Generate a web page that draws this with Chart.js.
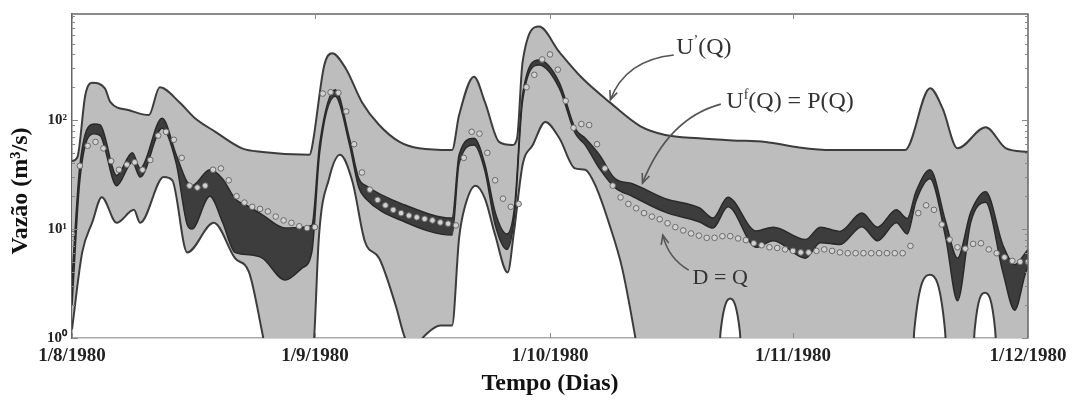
<!DOCTYPE html>
<html>
<head>
<meta charset="utf-8">
<script src="https://cdn.jsdelivr.net/npm/chart.js@4.4.1/dist/chart.umd.min.js"></script>
<style>
    html, body { margin: 0; padding: 0; background: #fff; }
    #wrap { width: 1079px; height: 405px; position: relative; }
</style>
</head>
<body>
<div id="wrap"><canvas id="grafico"></canvas></div>
<script>
// Eixo x em dias desde 1/8/1980
const tickDays = [0, 31, 61, 92, 122];
const tickLabels = ['1/8/1980', '1/9/1980', '1/10/1980', '1/11/1980', '1/12/1980'];
const yTickVals = [1, 10, 100];
const yTickLabels = ['10⁰', '10¹', '10²'];

// Limite superior U'(Q)
const uDays = [0, 0.7, 1.7, 2.6, 4.2, 4.9, 7.3, 9.8, 11.2, 13.7, 15.7, 18.3, 21.7, 24.3, 30.3, 30.6, 32.2, 33.2, 34.9, 37.0, 39.2, 41.8, 44.3, 48.5, 49.4, 51.3, 52.7, 54.5, 56.2, 56.8, 57.5, 59.6, 62.2, 65.1, 68.6, 72.5, 75.7, 80, 84.3, 88.5, 92.8, 97, 106.3, 109.5, 111.1, 113, 116.6, 119.2, 122];
const uVals = [42, 46, 170, 220, 195, 146, 123, 111, 200, 146, 104, 78, 55, 51, 48, 55, 320, 410, 300, 146, 90, 63, 55, 53, 111, 250, 146, 63, 59, 68, 340, 720, 420, 243, 146, 88, 73, 68, 65, 63, 56, 53, 53, 196, 128, 55, 86, 55, 51];

// Limite inferior
const lDays = [0, 1.3, 2.6, 3.8, 5.7, 7.9, 8.7, 11.7, 12.8, 14.7, 18.1, 20.8, 22.6, 24.3, 25.5, 30.3, 30.9, 31.5, 32.8, 34.2, 35.8, 37.4, 39.2, 41.3, 42.5, 43.5, 45, 47, 48.5, 49.4, 50.2, 51.5, 52.7, 54, 55.6, 56.4, 57.5, 58.8, 60.4, 62.2, 64.2, 65.5, 66.8, 68.6, 70.2, 71.9, 72.8, 82.3, 82.8, 84, 85.2, 85.7, 107.1, 107.5, 109.5, 111.4, 111.8, 114.8, 115.2, 116.5, 117.8, 118.2, 122];
const lVals = [1.2, 6.1, 11.6, 19.6, 11.4, 15, 11.4, 30, 28, 6.1, 11.4, 5.4, 4.0, 1.1, 0.4, 0.4, 1.0, 8.3, 29, 48, 27, 7.6, 5.4, 2.0, 1.0, 0.8, 1.05, 1.3, 1.3, 8.3, 16.6, 25, 19, 8.8, 4.0, 9.4, 38.6, 59, 96, 68, 36, 35, 25, 10.9, 4.4, 1.0, 0.4, 0.4, 1.2, 2.3, 1.2, 0.4, 0.4, 1.2, 3.8, 1.2, 0.4, 0.4, 1.2, 2.6, 1.2, 0.4, 0.4];

// Faixa escura Uf(Q) = P(Q)
const pDays = [0, 1, 2.8, 3.6, 5.7, 7.7, 8.7, 11.5, 13.3, 14.7, 15.3, 17.6, 19.2, 20.8, 22.6, 24.3, 27.2, 29.4, 30.6, 31.6, 33.6, 35.4, 36.6, 37.5, 42.5, 48.5, 49.4, 51.3, 52.7, 54, 55.5, 56.5, 57.5, 59.6, 62.2, 64.2, 65.5, 67.3, 69.3, 71.5, 75.7, 80.1, 81.8, 83.7, 87.3, 89.5, 93.6, 95.5, 98, 100.8, 102.8, 105.2, 106.6, 107.7, 109.5, 111.5, 113, 114.7, 116.6, 118.8, 120.3, 121.7, 122];
const pHigh = [3.5, 38, 92, 90, 31, 50, 36, 104, 48, 27, 25, 35, 29, 19, 16, 13.5, 10.2, 10.4, 10.8, 60, 190, 68, 29, 25, 16.6, 12.6, 48, 68, 39, 14.3, 9, 16.6, 170, 355, 220, 84, 68, 48, 29, 26, 19, 15.6, 12.6, 19.6, 9.6, 10.4, 8, 10.4, 9.5, 14, 10.4, 15, 12.5, 22, 35, 11.6, 5.4, 14.3, 22, 7.1, 4.7, 6.1, 6.5];
const pLow = [2, 28, 75, 72, 25, 41, 30, 84, 40, 11, 10, 20, 11.6, 6.1, 5.8, 5.4, 3.4, 4.4, 6.1, 50, 165, 60, 24, 19, 11.6, 8.8, 40, 59, 34, 11, 6.5, 14, 150, 320, 195, 76, 59, 36, 24, 20, 14.3, 11.6, 10.2, 16, 6.8, 7.8, 5.4, 7.5, 7.2, 10.5, 7.8, 11.4, 9, 18, 29, 8.3, 2.2, 11.6, 17.6, 4.0, 1.8, 4.0, 4.5];

// Vazões observadas D = Q (um valor por dia, 0..122)
const obsVals = [9, 38, 58, 63, 55, 42, 35, 39, 41, 35, 43, 72, 78, 66, 45, 25, 24, 25, 35, 36,
    28, 20, 17.5, 16, 15.3, 14.5, 13, 12, 11.4, 10.6, 10.2, 10.4, 175, 180, 178, 120, 60, 33, 23, 18.5,
    16.5, 15, 14, 13.3, 12.8, 12.4, 12, 11.5, 11.2, 10.8, 45, 78, 75, 50, 28, 19, 16, 17, 200, 260,
    360, 400, 290, 150, 85, 92, 90, 60, 36, 25, 19.5, 17, 15.5, 14, 13, 12.3, 11.3, 10.4, 9.7, 9.1,
    8.7, 8.3, 8.3, 8.6, 8.6, 8.2, 7.9, 7.4, 7.1, 6.8, 6.7, 6.5, 6.3, 6.1, 6.1, 6.3, 6.5, 6.3, 6.1, 6.0,
    6.0, 6.0, 6.0, 6.0, 6.0, 6.0, 6.0, 7.0, 14, 16.5, 15, 11, 8, 6.8, 6.6, 7.3, 7.4, 6.5, 6.0, 5.5,
    5.1, 5.0, 5.0];

// Rótulos e setas (em coordenadas de dados: dia, vazão)
const rotulos = [
    { dia: 77.1, valor: 458, tamanho: 24, partes: [['U', false], ['’', true], ['(Q)', false]] },
    { dia: 83.5, valor: 146, tamanho: 24, partes: [['U', false], ['f', true], ['(Q) = P(Q)', false]] },
    { dia: 79.2, valor: 3.5, tamanho: 22, partes: [['D = Q', false]] }
];
const setas = [
    { de: [76.8, 395], ctrl: [70.6, 355], para: [68.7, 153] },
    { de: [82.8, 140], ctrl: [76.1, 104], para: [72.8, 26.4] },
    { de: [78.7, 4.2], ctrl: [76.1, 5.4], para: [75.4, 8.8] }
];

const FONTE = "'Liberation Serif', 'Times New Roman', serif";

function pontos(xs, ys) {
    return xs.map((d, i) => ({ x: d, y: ys[i] }));
}

// Moldura, marcas menores e anotações
const molduraPlugin = {
    id: 'moldura',
    afterDatasetsDraw(chart) {
        const ctx = chart.ctx;
        const a = chart.chartArea;
        const sx = chart.scales.x;
        const sy = chart.scales.y;
        ctx.save();

        // moldura superior e direita
        ctx.strokeStyle = '#666';
        ctx.lineWidth = 1.5;
        ctx.beginPath();
        ctx.moveTo(a.left, a.top);
        ctx.lineTo(a.right, a.top);
        ctx.lineTo(a.right, a.bottom);
        ctx.stroke();

        // marcas menores do eixo log
        ctx.strokeStyle = '#888';
        ctx.lineWidth = 1;
        ctx.beginPath();
        for (let dec = 1; dec <= 100; dec *= 10) {
            for (let m = 1; m <= 9; m++) {
                const v = dec * m;
                if (v > sy.max) break;
                const y = Math.round(sy.getPixelForValue(v)) + 0.5;
                const len = m === 1 ? 6 : 3;
                ctx.moveTo(a.left, y); ctx.lineTo(a.left + len, y);
                ctx.moveTo(a.right, y); ctx.lineTo(a.right - len, y);
            }
        }
        tickDays.forEach(d => {
            const x = Math.round(sx.getPixelForValue(d)) + 0.5;
            ctx.moveTo(x, a.top); ctx.lineTo(x, a.top + 5);
            ctx.moveTo(x, a.bottom); ctx.lineTo(x, a.bottom - 5);
        });
        ctx.stroke();

        // setas curvas
        ctx.strokeStyle = '#555';
        ctx.lineWidth = 1.6;
        setas.forEach(s => {
            const p0 = [sx.getPixelForValue(s.de[0]), sy.getPixelForValue(s.de[1])];
            const pc = [sx.getPixelForValue(s.ctrl[0]), sy.getPixelForValue(s.ctrl[1])];
            const p1 = [sx.getPixelForValue(s.para[0]), sy.getPixelForValue(s.para[1])];
            ctx.beginPath();
            ctx.moveTo(p0[0], p0[1]);
            ctx.quadraticCurveTo(pc[0], pc[1], p1[0], p1[1]);
            ctx.stroke();
            const ang = Math.atan2(p1[1] - pc[1], p1[0] - pc[0]);
            ctx.beginPath();
            ctx.moveTo(p1[0] - 10 * Math.cos(ang - 0.4), p1[1] - 10 * Math.sin(ang - 0.4));
            ctx.lineTo(p1[0], p1[1]);
            ctx.lineTo(p1[0] - 10 * Math.cos(ang + 0.4), p1[1] - 10 * Math.sin(ang + 0.4));
            ctx.stroke();
        });

        // textos
        ctx.fillStyle = '#333';
        ctx.textBaseline = 'middle';
        ctx.textAlign = 'left';
        rotulos.forEach(r => {
            let x = sx.getPixelForValue(r.dia);
            const y = sy.getPixelForValue(r.valor);
            r.partes.forEach(([txt, sup]) => {
                const t = sup ? Math.round(r.tamanho * 0.6) : r.tamanho;
                ctx.font = t + 'px ' + FONTE;
                ctx.fillText(txt, x, sup ? y - r.tamanho * 0.3 : y);
                x += ctx.measureText(txt).width;
            });
        });
        ctx.restore();
    }
};

const ctx = document.getElementById('grafico').getContext('2d');
new Chart(ctx, {
    type: 'line',
    data: {
        datasets: [
            {
                label: "U'(Q)",
                data: pontos(uDays, uVals),
                borderColor: '#3c3c3c',
                borderWidth: 2,
                backgroundColor: '#bdbdbd',
                fill: '+1',
                pointRadius: 0,
                cubicInterpolationMode: 'monotone',
                order: 5
            },
            {
                label: 'inferior',
                data: pontos(lDays, lVals),
                borderColor: '#3c3c3c',
                borderWidth: 2,
                fill: false,
                pointRadius: 0,
                cubicInterpolationMode: 'monotone',
                order: 4
            },
            {
                label: 'P(Q) sup',
                data: pontos(pDays, pHigh),
                borderColor: '#2a2a2a',
                borderWidth: 1.5,
                backgroundColor: '#3d3d3d',
                fill: '+1',
                pointRadius: 0,
                cubicInterpolationMode: 'monotone',
                order: 3
            },
            {
                label: 'P(Q) inf',
                data: pontos(pDays, pLow),
                borderColor: '#2a2a2a',
                borderWidth: 1.5,
                fill: false,
                pointRadius: 0,
                cubicInterpolationMode: 'monotone',
                order: 2
            },
            {
                label: 'D = Q',
                data: obsVals.map((v, i) => ({ x: i, y: v })),
                showLine: false,
                pointRadius: 2.8,
                pointBackgroundColor: '#d2d2d2',
                pointBorderColor: '#6a6a6a',
                pointBorderWidth: 1,
                order: 1
            }
        ]
    },
    options: {
        responsive: true,
        maintainAspectRatio: false,
        animation: false,
        devicePixelRatio: 1,
        layout: { padding: { top: 14, right: 51, bottom: 0, left: 0 } },
        plugins: {
            legend: { display: false },
            tooltip: { enabled: false }
        },
        scales: {
            x: {
                type: 'linear',
                min: 0,
                max: 122,
                afterBuildTicks: s => { s.ticks = tickDays.map(v => ({ value: v })); },
                afterFit: s => { s.height = 67; },
                ticks: {
                    callback: (v, i) => tickLabels[i],
                    font: { family: FONTE, size: 19, weight: 'bold' },
                    color: '#222',
                    padding: 7,
                    maxRotation: 0,
                    autoSkip: false
                },
                grid: { display: false, drawTicks: false },
                border: { display: true, color: '#aaa', width: 1.5 },
                title: {
                    display: true,
                    text: 'Tempo (Dias)',
                    font: { family: FONTE, size: 24, weight: 'bold' },
                    color: '#111',
                    padding: { top: 0, bottom: 7 }
                }
            },
            y: {
                type: 'logarithmic',
                min: 1,
                max: 940,
                afterBuildTicks: s => { s.ticks = yTickVals.map(v => ({ value: v })); },
                afterFit: s => { s.width = 72; },
                ticks: {
                    callback: (v, i) => yTickLabels[i],
                    font: { family: FONTE, size: 15, weight: 'bold' },
                    color: '#222',
                    padding: 5
                },
                grid: { display: false, drawTicks: false },
                border: { display: true, color: '#666', width: 1.5 },
                title: {
                    display: true,
                    text: 'Vazão (m³/s)     ',
                    font: { family: FONTE, size: 24, weight: 'bold' },
                    color: '#111',
                    padding: { top: 6, bottom: 0 }
                }
            }
        }
    },
    plugins: [molduraPlugin]
});
</script>
</body>
</html>
